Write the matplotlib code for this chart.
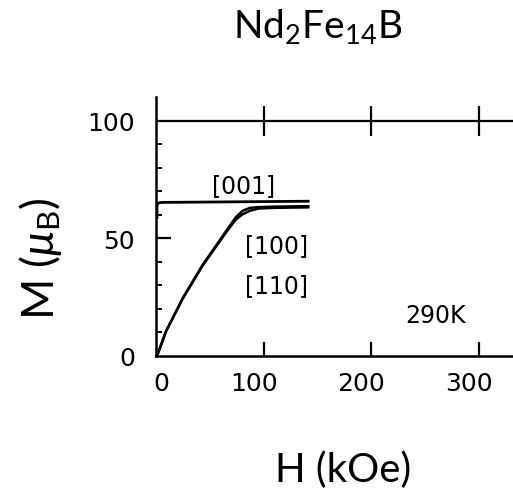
import matplotlib
matplotlib.use('Agg')
import matplotlib.pyplot as plt
import matplotlib.transforms as mtransforms

# data (H in kOe, M in mu_B)
h_easy = [0, 0, 1, 4, 60, 141]
m_easy = [59, 64, 65, 65.3, 65.5, 65.8]

h_hard = [0, 8.4, 24, 42.5, 64, 73.5, 80, 87, 95, 110, 141]
m_100 = [0, 10.5, 24.6, 38.7, 52.8, 59, 61.8, 63, 63.3, 63.5, 63.7]
m_110 = [0, 10.5, 24.4, 38.4, 52.3, 58, 60.3, 61.8, 62.7, 63, 63.2]

x_ticks = [0, 100, 200, 300]
y_ticks = [0, 50, 100]
y_minor = [10, 20, 30, 40, 60, 70, 80, 90]

labels = ['[001]', '[100]', '[110]', '290K']
label_x = [81, 111.6, 111.6, 259.5]
label_y = [72.5, 47, 30, 17.4]

plt.rcParams['mathtext.fontset'] = 'custom'
plt.rcParams['mathtext.rm'] = 'Lato'
plt.rcParams['mathtext.it'] = 'Lato:italic'

fig = plt.figure(figsize=(5.13, 4.89), dpi=100)
ax = fig.add_axes([0.304, 0.270, 0.696, 0.529])

ax.plot(h_easy, m_easy, color='black', lw=2)
ax.plot(h_hard, m_100, color='black', lw=1.8)
ax.plot(h_hard, m_110, color='black', lw=1.8)

# top line at 100 with crossing ticks
ax.axhline(100, color='black', lw=1.6)
ax.vlines(x_ticks[1:], 100 - 6.4, 100 + 6.4, color='black', lw=1.6)

ax.set_xlim(-1, 332)
ax.set_ylim(0, 110)
for s in ['top', 'right']:
    ax.spines[s].set_visible(False)
for s in ['left', 'bottom']:
    ax.spines[s].set_linewidth(1.8)

ax.set_xticks(x_ticks)
ax.set_yticks(y_ticks)
ax.set_yticks(y_minor, minor=True)
ax.tick_params(axis='x', direction='in', length=10, width=1.6, pad=11, labelsize=18)
ax.tick_params(axis='y', which='major', direction='in', length=11, width=1.6, pad=15, labelsize=18)
ax.tick_params(axis='y', which='minor', direction='in', length=4.5, width=1.4)
ax.xaxis.get_major_ticks()[0].tick1line.set_visible(False)
ax.yaxis.get_major_ticks()[0].tick1line.set_visible(False)
ax.yaxis.get_major_ticks()[2].tick1line.set_visible(False)

# the scanned x labels sit a little off their ticks
for i, lab in enumerate(ax.get_xticklabels()):
    dx = 4 if i == 0 else -10
    lab.set_transform(lab.get_transform() + mtransforms.ScaledTranslation(dx / 100, 0, fig.dpi_scale_trans))

for t, x, y in zip(labels, label_x, label_y):
    ax.text(x, y, t, ha='center', va='center', fontsize=17)

fig.text(0.62, 0.922, r'Nd$_2$Fe$_{14}$B', ha='center', va='baseline',
         fontsize=28, family='Lato')
fig.text(0.669, 0.0143, 'H (kOe)', ha='center', va='baseline',
         fontsize=29, family='Lato')
fig.text(0.078, 0.47, r'M ($\mu_\mathrm{B}$)', ha='center', va='center',
         rotation=90, fontsize=32, family='Lato')

fig.savefig('out.png', dpi=100)
